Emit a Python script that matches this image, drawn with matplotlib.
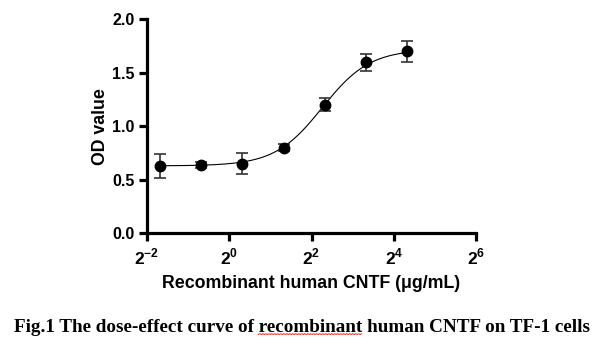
import numpy as np
import matplotlib
matplotlib.use("Agg")
import matplotlib.pyplot as plt
from matplotlib.ticker import FixedLocator, FuncFormatter

plt.rcParams['font.family'] = ['Liberation Sans', 'DejaVu Sans']
plt.rcParams['mathtext.fontset'] = 'custom'
plt.rcParams['mathtext.rm'] = 'Liberation Sans:bold'
plt.rcParams['mathtext.bf'] = 'Liberation Sans:bold'

# dosis (ug/mL) y lecturas OD
dose = [0.3125, 0.625, 1.25, 2.5, 5, 10, 20]
od = [0.63, 0.64, 0.65, 0.80, 1.20, 1.60, 1.70]
sd = [0.11, 0.03, 0.10, 0.03, 0.06, 0.08, 0.10]

# parametros del ajuste logistico de 4 parametros
bottom, top, ec50, hill = 0.63, 1.72, 4.8, 2.5

xticks = [2**-2, 2**0, 2**2, 2**4, 2**6]
yticks = [0.0, 0.5, 1.0, 1.5, 2.0]

fig = plt.figure(figsize=(6.03, 3.49), dpi=100)
ax = fig.add_axes([147/603, 1 - 233.3/349, (476 - 147)/603, (233.3 - 19.3)/349])

xx = np.logspace(np.log2(dose[0]), np.log2(dose[-1]), 300, base=2)
yy = bottom + (top - bottom) / (1 + (ec50 / xx)**hill)
ax.plot(xx, yy, color='black', lw=0.8)

ax.errorbar(dose, od, yerr=sd, fmt='o', color='black', ms=7.5,
            ecolor='#333333', elinewidth=1.2, capsize=4.2, capthick=1.2)

ax.set_xscale('log', base=2)
ax.set_xlim(2**-2, 2**6)
ax.set_ylim(0, 2.0)
ax.xaxis.set_major_locator(FixedLocator(xticks))
ax.xaxis.set_minor_locator(FixedLocator([]))
ax.xaxis.set_major_formatter(FuncFormatter(lambda v, p: r'$2^{%d}$' % round(np.log2(v))))
ax.set_yticks(yticks)
ax.set_yticklabels(['%.1f' % v for v in yticks])

for s in ['top', 'right']:
    ax.spines[s].set_visible(False)
for s in ['left', 'bottom']:
    ax.spines[s].set_linewidth(2.3)
ax.tick_params(width=2.3, length=5.5, labelsize=11.5)
ax.tick_params(axis='x', labelsize=12.5, pad=4.5)
for lab in ax.get_yticklabels():
    lab.set_fontweight('bold')

ax.set_ylabel('OD value', fontsize=12.8, fontweight='bold', labelpad=2)
ax.set_xlabel('Recombinant human CNTF (μg/mL)', fontsize=12.8, fontweight='bold', labelpad=5)

cap = fig.text(0.5, 1 - 327/349, 'Fig.1 The dose-effect curve of recombinant human CNTF on TF-1 cells',
               ha='center', va='center', fontsize=13.8, fontweight='bold',
               family='Liberation Serif')

# subrayado ondulado rojo bajo "recombinant"
fig.canvas.draw()
r = fig.canvas.get_renderer()
bb = cap.get_window_extent(r)
pre = fig.text(0, 0, 'Fig.1 The dose-effect curve of ', fontsize=13.8, fontweight='bold',
               family='Liberation Serif')
word = fig.text(0, 0, 'recombinant', fontsize=13.8, fontweight='bold', family='Liberation Serif')
w0 = pre.get_window_extent(r).width
w1 = word.get_window_extent(r).width
pre.remove()
word.remove()
x0 = bb.x0 + w0
xs = np.arange(x0, x0 + w1, 1.5)
ys = bb.y0 + 1 + 0.8 * (np.arange(len(xs)) % 2)
fig.add_artist(plt.Line2D(xs / 603, ys / 349, color='red', lw=0.6))

fig.savefig('out.png', dpi=100)
